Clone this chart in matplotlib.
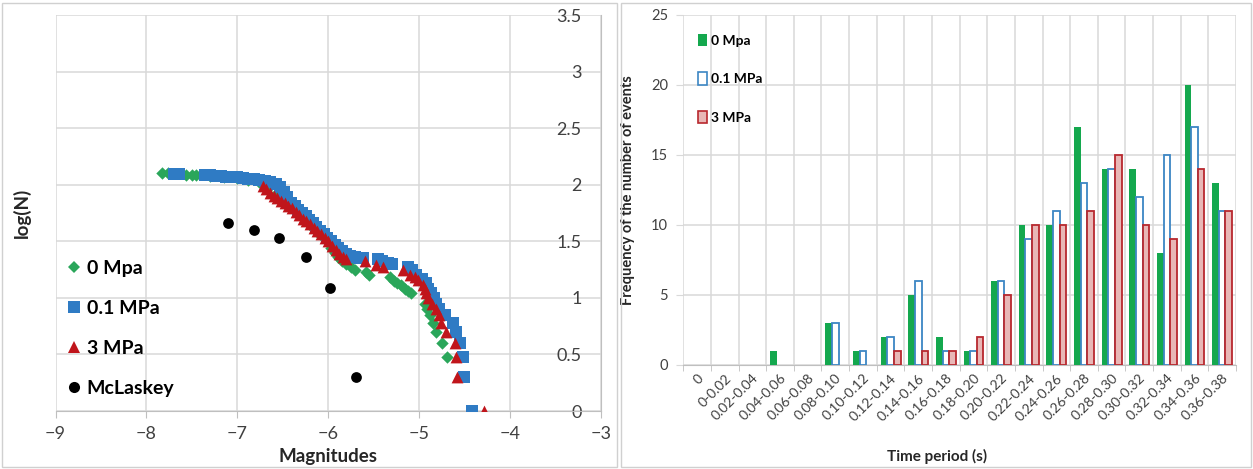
import numpy as np
import matplotlib
matplotlib.use("Agg")
import matplotlib.pyplot as plt
from matplotlib.patches import Rectangle, Patch
from matplotlib.lines import Line2D

plt.rcParams["font.family"] = ["Lato", "DejaVu Sans"]

# ---- left panel: cumulative magnitude distribution, log(N) vs magnitude ----
mag_0mpa = [-7.83, -7.76, -7.56, -7.50, -7.45, -7.30, -7.15, -7.00, -6.88, -6.76,
            -6.66, -6.58, -6.50, -6.42, -6.34, -6.26, -6.18, -6.12, -6.06, -6.01,
            -5.97, -5.93, -5.89, -5.85, -5.80, -5.75, -5.71, -5.58, -5.55, -5.32,
            -5.28, -5.24, -5.20, -5.16, -5.12, -5.09, -4.94, -4.91, -4.88, -4.85,
            -4.82, -4.75, -4.69]
logn_0mpa = [2.10, 2.10, 2.09, 2.09, 2.09, 2.08, 2.07, 2.06, 2.04, 2.02,
             1.97, 1.92, 1.87, 1.81, 1.75, 1.69, 1.63, 1.58, 1.54, 1.50,
             1.44, 1.40, 1.36, 1.33, 1.30, 1.27, 1.25, 1.23, 1.20, 1.18,
             1.15, 1.13, 1.11, 1.08, 1.06, 1.04, 0.95, 0.90, 0.85, 0.78,
             0.70, 0.60, 0.48]

mag_01mpa = [-7.70, -7.64, -7.36, -7.30, -7.24, -7.18, -7.12, -7.06, -7.00, -6.94,
             -6.88, -6.82, -6.76, -6.70, -6.64, -6.58, -6.53, -6.49, -6.45, -6.41,
             -6.37, -6.33, -6.29, -6.25, -6.21, -6.17, -6.13, -6.09, -6.05, -6.01,
             -5.97, -5.93, -5.89, -5.85, -5.81, -5.76, -5.71, -5.66, -5.62, -5.45,
             -5.41, -5.34, -5.30, -5.12, -5.08, -5.03, -4.97, -4.93, -4.90, -4.87,
             -4.84, -4.81, -4.78, -4.72, -4.63, -4.60, -4.555, -4.52, -4.51, -4.415]
logn_01mpa = [2.097, 2.097, 2.085, 2.082, 2.079, 2.076, 2.072, 2.068, 2.064, 2.059,
              2.054, 2.048, 2.041, 2.033, 2.022, 2.005, 1.98, 1.94, 1.89, 1.84,
              1.81, 1.78, 1.75, 1.72, 1.69, 1.66, 1.63, 1.595, 1.56, 1.53,
              1.50, 1.47, 1.44, 1.41, 1.385, 1.37, 1.36, 1.355, 1.35, 1.34,
              1.33, 1.31, 1.30, 1.27, 1.25, 1.20, 1.17, 1.13, 1.08, 1.04,
              1.00, 0.95, 0.90, 0.845, 0.78, 0.70, 0.60, 0.48, 0.30, 0.0]

mag_3mpa = [-6.72, -6.68, -6.64, -6.60, -6.56, -6.52, -6.48, -6.44, -6.40, -6.36,
            -6.32, -6.28, -6.24, -6.20, -6.16, -6.12, -6.08, -6.04, -6.00, -5.96,
            -5.92, -5.88, -5.84, -5.80, -5.60, -5.47, -5.40, -5.18, -5.10, -5.05,
            -5.01, -4.96, -4.94, -4.92, -4.90, -4.86, -4.82, -4.78, -4.76, -4.71,
            -4.61, -4.59, -4.585, -4.288]
logn_3mpa = [1.99, 1.96, 1.93, 1.90, 1.88, 1.86, 1.84, 1.81, 1.79, 1.76,
             1.73, 1.70, 1.68, 1.65, 1.62, 1.59, 1.56, 1.53, 1.50, 1.46,
             1.42, 1.39, 1.36, 1.34, 1.33, 1.29, 1.27, 1.245, 1.20, 1.18,
             1.16, 1.11, 1.08, 1.04, 1.00, 0.95, 0.90, 0.845, 0.78, 0.70,
             0.60, 0.48, 0.30, 0.0]

mag_mclaskey = [-7.10, -6.82, -6.54, -6.25, -5.98, -5.69]
logn_mclaskey = [1.66, 1.60, 1.53, 1.36, 1.09, 0.30]

mag_ticks = [-9, -8, -7, -6, -5, -4, -3]
logn_ticks = [0, 0.5, 1, 1.5, 2, 2.5, 3, 3.5]
logn_ticklabels = ["0", "0.5", "1", "1.5", "2", "2.5", "3", "3.5"]

# ---- right panel: event counts per time period ----
periods = ["0", "0-0.02", "0.02-0.04", "0.04-0.06", "0.06-0.08", "0.08-0.10",
           "0.10-0.12", "0.12-0.14", "0.14-0.16", "0.16-0.18", "0.18-0.20",
           "0.20-0.22", "0.22-0.24", "0.24-0.26", "0.26-0.28", "0.28-0.30",
           "0.30-0.32", "0.32-0.34", "0.34-0.36", "0.36-0.38"]
freq_0mpa = [0, 0, 0, 1, 0, 3, 1, 2, 5, 2, 1, 6, 10, 10, 17, 14, 14, 8, 20, 13]
freq_01mpa = [0, 0, 0, 0, 0, 3, 1, 2, 6, 1, 1, 6, 9, 11, 13, 14, 12, 15, 17, 11]
freq_3mpa = [0, 0, 0, 0, 0, 0, 0, 1, 1, 1, 2, 5, 10, 10, 11, 15, 10, 9, 14, 11]

GREEN = "#2aa65a"
BLUE = "#2f7bc4"
RED = "#c0151b"
GRID = "#d9d9d9"

fig = plt.figure(figsize=(12.53, 4.69), dpi=100)

# panel frames
for x0, w in [(2, 615), (621, 630)]:
    fig.add_artist(Rectangle((x0 / 1253, 2 / 469), w / 1253, 464 / 469,
                             transform=fig.transFigure, fill=False,
                             ec="#d0d0d0", lw=1))

# ---------------- left ----------------
ax1 = fig.add_axes([55.5 / 1253, 1 - 411 / 469, 545.5 / 1253, 396 / 469])
ax1.scatter(mag_0mpa, logn_0mpa, marker="D", s=40, color=GREEN, lw=0, zorder=3)
ax1.scatter(mag_01mpa, logn_01mpa, marker="s", s=64, color=BLUE, lw=0, zorder=4)
ax1.scatter(mag_3mpa, logn_3mpa, marker="^", s=72, color=RED, lw=0, zorder=5)
ax1.scatter(mag_mclaskey, logn_mclaskey, marker="o", s=60, color="black", lw=0, zorder=6)

ax1.set_xlim(-9, -3)
ax1.set_ylim(0, 3.5)
ax1.set_xticks(mag_ticks)
ax1.set_yticks(logn_ticks)
ax1.set_yticklabels(logn_ticklabels)
ax1.set_axisbelow(True)
ax1.grid(True, color=GRID, lw=1.1)
for side in ["left", "top"]:
    ax1.spines[side].set_visible(False)
for side in ["right", "bottom"]:
    ax1.spines[side].set_color("#bfbfbf")
ax1.yaxis.tick_right()
ax1.tick_params(axis="y", length=0, pad=-14, labelsize=13, labelcolor="#404040")
for lab in ax1.get_yticklabels():
    lab.set_ha("right")
ax1.tick_params(axis="x", length=5, color="#bfbfbf", labelsize=13,
                labelcolor="#404040", pad=6)
ax1.set_xlabel("Magnitudes", fontsize=13.5, fontweight="bold", color="#262626")
ax1.xaxis.set_label_coords(0.5, -0.093)
ax1.set_ylabel("log(N)", fontsize=13.5, fontweight="bold", color="#262626")
ax1.yaxis.set_label_position("left")
ax1.yaxis.set_label_coords(-0.045, 0.5)

handles1 = [
    Line2D([], [], ls="none", marker="D", ms=6.5, color=GREEN, mew=0),
    Line2D([], [], ls="none", marker="s", ms=8.5, color=BLUE, mew=0),
    Line2D([], [], ls="none", marker="^", ms=9, color=RED, mew=0),
    Line2D([], [], ls="none", marker="o", ms=8, color="black", mew=0),
]
ax1.legend(handles1, ["0 Mpa", "0.1 MPa", "3 MPa", "McLaskey"],
           loc="upper left", bbox_to_anchor=(0.02, 0.382), frameon=False,
           borderpad=0, borderaxespad=0, handlelength=0.8, handletextpad=0.25,
           labelspacing=1.18, prop={"size": 14, "weight": "bold"})

# ---------------- right ----------------
ax2 = fig.add_axes([683.3 / 1253, 1 - 365 / 469, 552.7 / 1253, 350 / 469])
x = np.arange(len(periods))
w = 0.24

f0 = np.array(freq_0mpa)
f1 = np.array(freq_01mpa)
f3 = np.array(freq_3mpa)
m0, m1, m3 = f0 > 0, f1 > 0, f3 > 0
ax2.bar(x[m0] - w, f0[m0], w, color="#14a84e", lw=0, zorder=3)
ax2.bar(x[m1], f1[m1], w, facecolor="white", edgecolor="#3c86c4", lw=1.3, zorder=3)
ax2.bar(x[m3] + w, f3[m3], w, facecolor="#e8b7b6", edgecolor="#b8282e", lw=1.3, zorder=3)

ax2.set_xlim(-0.5, len(periods) - 0.5)
ax2.set_ylim(0, 25)
ax2.set_yticks([0, 5, 10, 15, 20, 25])
ax2.set_xticks(x)
ax2.set_xticklabels(periods, rotation=45, ha="right", rotation_mode="anchor")
ax2.set_xticks(np.arange(-0.5, len(periods)), minor=True)
ax2.set_axisbelow(True)
ax2.grid(True, axis="y", color=GRID, lw=1.1)
ax2.grid(True, axis="x", which="minor", color=GRID, lw=1.1)
for side in ["left", "top", "right"]:
    ax2.spines[side].set_visible(False)
ax2.spines["bottom"].set_color("#bfbfbf")
ax2.tick_params(axis="x", which="major", length=0, pad=5, labelsize=10,
                labelcolor="#404040")
ax2.tick_params(axis="x", which="minor", length=4, color="#bfbfbf")
ax2.tick_params(axis="y", length=5, color=GRID, labelsize=10.5,
                labelcolor="#404040", pad=6)
ax2.set_xlabel("Time period (s)", fontsize=11, fontweight="bold", color="#262626")
ax2.xaxis.set_label_coords(0.459, -0.24)
ax2.set_ylabel("Frequency of the number of events", fontsize=10.5,
               fontweight="bold", color="#262626")
ax2.yaxis.set_label_coords(-0.088, 0.5)

handles2 = [
    Patch(facecolor="#14a84e", edgecolor="none"),
    Patch(facecolor="white", edgecolor="#3c86c4", lw=1.2),
    Patch(facecolor="#e8b7b6", edgecolor="#b8282e", lw=1.2),
]
ax2.legend(handles2, ["0 Mpa", "0.1 MPa", "3 MPa"], loc="upper left",
           bbox_to_anchor=(0.027, 0.947), frameon=False, borderpad=0,
           borderaxespad=0, handlelength=0.6, handleheight=1.0,
           handletextpad=0.3, labelspacing=1.85,
           prop={"size": 10, "weight": "bold"})

fig.savefig("out.png", dpi=100)
